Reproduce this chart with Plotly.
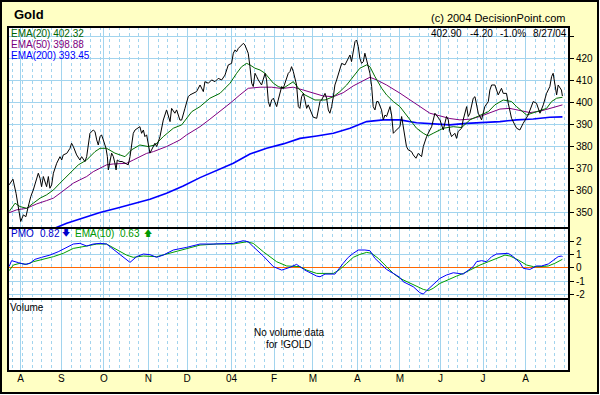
import plotly.graph_objects as go

# ---------------- data (x = trading-day index, 0 = 24 Jul 2003) ----------------
month_days = [6, 27, 49, 72, 92, 115, 137, 157, 180, 202, 223, 245, 267]
month_labels = ["A", "S", "O", "N", "D", "04", "F", "M", "A", "M", "J", "J", "A"]

price_day = [0, 2, 3.6, 4.8, 6, 7.4, 8.7, 9.9, 11.2, 12.5, 14.3, 15.1, 16, 16.8, 17.7, 19.4,
             20.3, 21.1, 22, 22.9, 24.6, 26.3, 27.2, 28, 29.8, 31.5, 32.3, 33.2, 34.9, 36.6,
             37.5, 39.2, 40.1, 40.9, 41.8, 43.5, 44.4, 45.3, 46.1, 47, 47.8, 48.7, 50.1, 50.8,
             51.3, 53, 53.9, 54.7, 55.3, 55.9, 57, 58.4, 60.4, 61.6, 62.5, 63.3, 64.2, 65.1,
             66.8, 67.6, 68.5, 69.4, 70.2, 71.1, 72.8, 74.6, 75.4, 76.3, 78, 79.7, 80.6, 81.4,
             83.2, 84, 85.7, 86.6, 88.3, 89.2, 90.9, 92.6, 93.5, 95.2, 96.9, 98.7,
             100.4, 101.2, 103, 104.7, 106.4, 108.1, 109.9, 111.6, 113.3, 115, 115.9, 116.8,
             117.6, 118.5, 120.2, 121.1, 121.9, 122.8, 123.6, 124.5, 125.4, 126.2, 127.1, 128,
             128.8, 130.5, 131.4, 132.3, 133.1, 134, 134.8, 135.7, 136.6, 137.4, 138.3, 139.1,
             140.9, 141.7, 142.6, 143.5, 144.3, 145.2, 146, 146.9, 147.8, 148.6, 149.5, 150.3,
             151.2, 152.1, 152.9, 153.8, 154.6, 155.5, 157.2, 159, 159.8, 160.7, 161.5, 163.3,
             164.1, 165, 165.8, 166.7, 167.6, 168.4, 169.3, 171, 171.9, 173.6, 174.5, 175.3,
             176.2, 177, 177.9, 178.8, 179.6, 180.5, 181.3, 182.2, 183.1, 183.9, 184.8, 185.7,
             186.5, 187.4, 188.2, 189.1, 190, 190.8, 192.5, 193.4, 194.3, 195.1, 196, 196.9,
             197.7, 198.6, 199.4, 200.3, 202,
             202.9, 203.7, 205.4, 206.3, 208, 208.9, 210.3, 211.5, 213.2, 214.1, 215.8, 217.5,
             218.4, 220.1, 220.9, 222.7, 224.4, 225.3, 226.1, 227, 227.8, 228.7, 230.4, 231.3,
             232.1, 233.9, 234.7, 236.5, 237.3, 238.2, 239.9, 240.8, 242.5, 244.2, 245.9, 247.7,
             248.5, 249.4, 251.1, 252.8, 254.5, 255.4, 257.1, 258, 259.7, 261.4, 262.3, 264,
             265.7, 268.3, 270, 270.9, 272.6, 274.4, 276.1, 277.8, 279.5, 280.4, 281.2, 283,
             283.8, 285.5, 286]
price_val = [362.6, 365.2, 358.8, 352.8, 346.0, 349.0, 348.2, 352.8, 357.3, 360.3, 364.9, 367.9,
             365.6, 361.8, 366.4, 361.8, 366.4, 361.1, 362.6, 367.9, 372.4, 375.4, 373.9, 376.2,
             376.9, 379.2, 381.5, 380.0, 376.2, 373.9, 375.4, 373.2, 375.4, 380.7, 386.0, 387.5,
             386.8, 383.0, 380.7, 384.5, 385.3, 383.0, 379.2, 375.4, 369.4, 377.0, 375.4, 372.4,
             369.4, 373.9, 373.2, 373.2, 372.4, 371.7, 375.4, 380.7, 386.0, 387.5, 388.3, 389.0,
             386.0, 387.5, 384.5, 385.3, 377.0, 380.7, 381.5, 380.0, 384.5, 392.0, 395.1, 396.6,
             391.3, 397.3, 395.1, 396.6, 392.0, 392.0, 397.3, 402.6, 403.4, 404.1, 404.9, 407.9,
             404.9, 409.4, 408.7, 410.2, 409.4, 410.9, 410.2, 412.4, 417.0, 417.7, 422.3, 423.8,
             423.0, 424.5, 426.0, 426.8, 426.0, 423.8, 422.3, 416.2, 408.7, 407.2, 413.2, 411.7,
             410.2, 407.9, 410.9, 413.2, 410.2, 400.4, 398.1, 401.1, 401.9, 400.4, 398.1, 401.1,
             407.2, 406.4, 408.7, 410.9, 413.2, 414.0, 416.2, 414.0, 410.2, 407.9, 398.1, 397.3,
             402.6, 404.1, 401.1, 397.3, 398.9, 396.6, 393.3, 392.8, 396.6, 400.4, 401.1, 404.1,
             401.9, 396.6, 395.1, 398.1, 402.6, 407.9, 410.2, 414.7, 417.7, 417.0, 418.5, 420.0,
             421.5, 418.5, 422.3, 427.6, 428.3, 425.3, 420.0, 417.7, 418.5, 422.3, 419.2, 416.2,
             413.2, 407.2, 398.1, 396.6, 400.4, 400.4, 396.6, 392.1, 394.3, 393.6, 395.8, 398.1,
             394.3, 386.0, 386.8, 387.5, 389.0,
             393.6, 389.0, 380.0, 378.5, 377.7, 376.2, 374.7, 376.9, 375.4, 380.0, 384.5, 387.5,
             389.0, 395.1, 394.3, 392.1, 387.5, 390.5, 393.6, 392.1, 386.8, 384.5, 386.0, 383.7,
             386.8, 388.3, 392.1, 398.1, 393.6, 395.1, 401.9, 402.6, 395.1, 392.1, 398.1, 400.4,
             405.6, 407.9, 407.9, 403.4, 406.4, 404.1, 404.1, 399.6, 392.8, 389.8, 388.3, 387.5,
             390.5, 394.3, 398.9, 400.4, 399.6, 395.1, 398.9, 404.1, 407.2, 411.7, 413.2, 403.4,
             407.9, 405.6, 402.9]

ema20_day = [0, 3.1, 5.6, 9.1, 12.5, 16, 19.4, 22.9, 26.3, 29.8, 33.2, 35.8, 40.1, 44.4, 47,
             50.4, 54.7, 59.9, 63.3, 67.6, 71.9, 75.4, 79.7, 84.9, 89.2, 94.4, 98.7, 103.8, 109,
             114.2, 117.6, 120.2, 122.8, 124.5, 127.1, 129.7, 132.3, 136.6, 139.1, 141.7, 144.3,
             146.9, 150.3, 152.9, 158.1, 163.3, 167.6, 171, 174.5, 177.9, 181.3, 184.8, 186.5,
             189.1, 192.6, 195.1, 198.6, 202, 207.2, 210.6, 214.1, 216.6, 219.2, 224.4, 229.6,
             233.9, 238.2, 243.3, 247.7, 251.1, 255.4, 259.7, 262.3, 267.5, 272.6, 277.8, 280.4,
             283, 286]
ema20_val = [350.5, 354.3, 352.8, 352.0, 354.3, 356.6, 358.1, 360.3, 363.4, 366.4, 369.4, 371.7,
             373.9, 377.7, 379.2, 379.2, 377.0, 375.4, 378.5, 380.7, 380.0, 380.7, 384.5, 388.3,
             389.8, 395.8, 398.1, 401.9, 404.1, 408.7, 413.2, 416.2, 417.7, 417.0, 415.5, 414.7,
             413.2, 408.7, 407.2, 406.4, 407.9, 409.4, 405.6, 403.4, 401.1, 401.1, 402.6, 404.9,
             407.9, 411.7, 415.5, 417.0, 416.2, 411.7, 406.4, 403.4, 400.4, 398.1, 392.1, 388.3,
             386.0, 384.8, 386.0, 388.3, 389.0, 388.6, 392.1, 393.9, 395.8, 398.9, 401.1, 400.4,
             398.1, 394.3, 395.8, 397.3, 400.4, 401.9, 402.32]

ema50_day = [0, 3.9, 9.1, 14.3, 19.4, 22.9, 26.3, 29.8, 33.2, 36.6, 40.1, 43.5, 47, 50.4, 53.9,
             57.3, 60.7, 64.2, 67.6, 71.1, 74.6, 78, 81.4, 84.9, 88.3, 91.8, 95.2, 98.7, 103.8,
             109, 114.2, 119.3, 123.6, 129.7, 135.7, 140.9, 146.9, 152.1, 157.2, 162.4, 167.6,
             172.7, 177.9, 183.1, 186.5, 190, 195.1, 202, 207.2, 212.3, 217.5, 222.7, 227.8,
             233, 238.2, 243.3, 248.5, 253.7, 258.8, 264, 269.2, 274.4, 279.5, 286]
ema50_val = [350.0, 351.3, 352.0, 354.0, 355.5, 356.6, 358.8, 361.1, 363.4, 364.9, 366.4, 368.6,
             370.2, 371.7, 372.1, 372.4, 372.4, 373.9, 375.4, 376.9, 377.7, 378.8, 380.0, 381.5,
             383.0, 385.3, 387.2, 389.0, 392.4, 395.8, 399.6, 403.4, 406.4, 406.9, 406.9, 406.3,
             406.9, 405.6, 404.1, 402.9, 402.6, 404.4, 407.5, 409.9, 411.4, 410.2, 407.9, 404.2,
             401.1, 397.8, 395.1, 393.9, 392.7, 392.1, 392.4, 393.6, 395.4, 397.0, 397.3, 396.3,
             395.4, 396.0, 397.3, 398.88]

ema200_day = [0, 19.4, 29.8, 38.4, 47, 55.6, 64.2, 72.8, 81.4, 90, 98.7, 107.3, 115.9, 124.5,
              133.1, 141.7, 150.3, 159, 167.6, 176.2, 184.8, 193.4, 202, 210.6, 219.2, 227.8,
              236.5, 245.1, 253.7, 262.3, 270.9, 279.5, 286]
ema200_val = [337.0, 341.5, 345.2, 347.5, 350.1, 352.0, 354.0, 356.1, 358.8, 362.1, 365.9, 369.1,
              372.4, 376.6, 379.2, 381.2, 383.7, 384.8, 386.0, 388.3, 391.3, 392.1, 392.1, 390.8,
              390.2, 389.8, 390.5, 390.8, 391.3, 392.1, 392.5, 393.3, 393.45]

pmo_day = [0, 1.3, 4.8, 8.2, 10.8, 13.4, 16.8, 21.1, 25.4, 29.8, 33.2, 36.6, 40.1, 43.5, 47,
           50.4, 52.1, 57.3, 62.5, 65.9, 69.4, 72.8, 76.3, 79.7, 84.9, 91.8, 98.7, 105.5, 112.4,
           115.9, 121, 123.6, 126.2, 131.4, 136.6, 140.9, 145.2, 148.6, 150.3, 152.9, 159, 160.7,
           163.3, 168.4, 172.7, 175.3, 177.9, 180.5, 183.9, 186.5, 189.1, 195.1, 198.6, 202,
           203.7, 208.9, 212.3, 214.1, 215.8, 219.2, 222.7, 226.1, 229.6, 234.7, 237.3, 239.9,
           241.6, 244.2, 246.8, 249.4, 252, 258, 260.6, 264, 265.8, 269.2, 272.6, 275.2, 278.7,
           281.3, 283.8, 285.6, 286]
pmo_val = [0.08, 0.53, 0.38, 0.25, 0.33, 0.63, 0.78, 0.95, 1.2, 1.53, 1.78, 1.83, 1.63, 1.78,
           1.83, 1.78, 1.58, 0.95, 0.4, 0.83, 1.03, 0.98, 0.78, 0.95, 1.33, 1.53, 1.78, 1.78,
           1.78, 1.83, 2.03, 1.95, 1.58, 0.88, 0.08, -0.18, 0.03, 0.25, 0.08, -0.18, -0.63,
           -0.68, -0.48, -0.48, 0.33, 0.78, 1.08, 1.33, 1.33, 1.28, 0.7, -0.13, -0.43, -0.73,
           -1.05, -1.43, -1.88, -1.98, -1.73, -1.3, -0.8, -0.55, -0.38, -0.48, -0.18, 0.08,
           0.45, 0.53, 0.45, 0.83, 1.03, 1.08, 0.83, 0.38, -0.05, -0.13, 0.13, 0.13, 0.28,
           0.53, 0.83, 0.88, 0.82]

pmo_ema_day = [0, 2.2, 5.6, 9.1, 12.5, 17.7, 22.9, 28, 33.2, 40.1, 45.3, 50.4, 55.6, 60.7, 64.2,
               69.4, 76.3, 81.4, 86.6, 91.8, 98.7, 107.3, 115.9, 122.8, 126.2, 131.4, 138.3,
               143.5, 150.3, 153.8, 159, 167.6, 171, 174.5, 177.9, 181.3, 184.8, 187.4, 190.8,
               195.1, 198.6, 202, 205.5, 209.8, 214.1, 216.7, 219.2, 222.7, 227, 231.3, 234.8,
               238.2, 243.4, 247.7, 252, 256.3, 258.9, 263.2, 267.5, 271, 274.4, 278.7, 282.1, 286]
pmo_ema_val = [-0.23, 0.2, 0.33, 0.25, 0.45, 0.63, 0.83, 1.08, 1.45, 1.63, 1.78, 1.78, 1.33,
               0.95, 0.78, 0.88, 0.83, 1.03, 1.2, 1.45, 1.7, 1.78, 1.78, 1.95, 1.83, 1.2, 0.45,
               0.13, 0.08, -0.18, -0.43, -0.43, -0.13, 0.33, 0.78, 1.0, 1.15, 1.08, 0.7, 0.08,
               -0.43, -0.8, -1.05, -1.3, -1.63, -1.73, -1.55, -1.18, -0.88, -0.63, -0.43, -0.18,
               0.2, 0.45, 0.7, 0.95, 0.88, 0.58, 0.2, 0.08, 0.08, 0.13, 0.33, 0.63]

price_ticks = [350, 360, 370, 380, 390, 400, 410, 420, 430]
price_ticktext = ["350", "360", "370", "380", "390", "400", "410", "420", ""]
pmo_ticks = [-2, -1, 0, 1, 2]
pmo_ticktext = ["-2", "-1", "0", "1", "2"]

# ---------------- layout helpers ----------------
W, H = 600, 395
def fx(p):
    return p / W
def fy(p):
    return 1 - p / H

X0, X1 = 8, 569
P_TOP, P_BOT, M_BOT, V_BOT = 27, 228, 299, 371
XR = [-0.56, 289.4]
GRID = "#A2D4EE"
FONT = "Liberation Sans, Arial, sans-serif"
YELLOW = "#FFFFC4"

fig = go.Figure()
fig.add_trace(go.Scatter(x=ema200_day, y=ema200_val, mode="lines",
                         line=dict(color="#0000FF", width=1.6), xaxis="x", yaxis="y", hoverinfo="skip"))
fig.add_trace(go.Scatter(x=ema50_day, y=ema50_val, mode="lines",
                         line=dict(color="#800080", width=1), xaxis="x", yaxis="y", hoverinfo="skip"))
fig.add_trace(go.Scatter(x=ema20_day, y=ema20_val, mode="lines",
                         line=dict(color="#007000", width=1), xaxis="x", yaxis="y", hoverinfo="skip"))
fig.add_trace(go.Scatter(x=price_day, y=price_val, mode="lines",
                         line=dict(color="#000000", width=1), xaxis="x", yaxis="y", hoverinfo="skip"))
fig.add_trace(go.Scatter(x=pmo_ema_day, y=pmo_ema_val, mode="lines",
                         line=dict(color="#00A000", width=1), xaxis="x2", yaxis="y2", hoverinfo="skip"))
fig.add_trace(go.Scatter(x=pmo_day, y=pmo_val, mode="lines",
                         line=dict(color="#0000FF", width=1), xaxis="x2", yaxis="y2", hoverinfo="skip"))
fig.add_trace(go.Scatter(x=[], y=[], mode="lines", xaxis="x3", yaxis="y3", hoverinfo="skip"))

def xax(anchor, labels):
    d = dict(domain=[fx(X0), fx(X1)], range=XR, anchor=anchor, tickmode="array",
             tickvals=month_days, ticktext=month_labels, showticklabels=labels, ticks="",
             showgrid=True, gridcolor=GRID, gridwidth=1, zeroline=False, showline=False,
             tickfont=dict(family=FONT, size=10, color="black"),
             minor=dict(tickmode="linear", tick0=2, dtick=5, showgrid=True, gridcolor=GRID,
                        griddash="dot", gridwidth=1, ticks=""))
    if anchor != "y":
        d["matches"] = "x"
    return d

fig.update_layout(
    width=W, height=H, autosize=False,
    margin=dict(l=0, r=0, t=0, b=0, pad=0),
    paper_bgcolor="white", plot_bgcolor="rgba(0,0,0,0)",
    showlegend=False, hovermode=False,
    font=dict(family=FONT, size=10, color="black"),
    xaxis=xax("y", False),
    xaxis2=xax("y2", False),
    xaxis3=xax("y3", True),
    yaxis=dict(domain=[fy(P_BOT), fy(P_TOP)], range=[343.07, 434.19], anchor="x", side="right",
               tickmode="array", tickvals=price_ticks, ticktext=price_ticktext,
               ticks="outside", ticklen=4, tickcolor="black", showgrid=True, gridcolor=GRID,
               zeroline=False, showline=False, tickfont=dict(family=FONT, size=10, color="black")),
    yaxis2=dict(domain=[fy(M_BOT), fy(P_BOT)], range=[-2.353, 2.985], anchor="x2", side="right",
                tickmode="array", tickvals=pmo_ticks, ticktext=pmo_ticktext,
                ticks="outside", ticklen=4, tickcolor="black", showgrid=True, gridcolor=GRID,
                zeroline=True, zerolinecolor="#FF6600", zerolinewidth=1, showline=False,
                tickfont=dict(family=FONT, size=10, color="black")),
    yaxis3=dict(domain=[fy(V_BOT), fy(M_BOT)], range=[0, 1], anchor="x3", side="right",
                showticklabels=False, ticks="", showgrid=False, zeroline=False, showline=False),
)

shapes = [
    dict(type="rect", xref="paper", yref="paper", x0=fx(1), x1=fx(598), y0=fy(393), y1=fy(1),
         fillcolor=YELLOW, line=dict(color="black", width=2), layer="below"),
    dict(type="rect", xref="paper", yref="paper", x0=fx(X0), x1=fx(X1), y0=fy(V_BOT), y1=fy(P_TOP),
         fillcolor="white", line=dict(width=0), layer="below"),
]
for top, bot in [(P_TOP, P_BOT), (P_BOT, M_BOT), (M_BOT, V_BOT)]:
    shapes.append(dict(type="rect", xref="paper", yref="paper", x0=fx(X0), x1=fx(X1),
                       y0=fy(bot), y1=fy(top), line=dict(color="black", width=2), layer="above"))
fig.update_layout(shapes=shapes)

def note(text, x, y, color="black", size=10, xanchor="left", bold=False):
    if bold:
        text = "<b>" + text + "</b>"
    fig.add_annotation(text=text, x=fx(x), y=fy(y), xref="paper", yref="paper",
                       xanchor=xanchor, yanchor="middle", showarrow=False,
                       font=dict(family=FONT, size=size, color=color))

note("Gold", 12, 14.5, size=13, bold=True)
note("(c) 2004 DecisionPoint.com", 568, 17.5, size=11, xanchor="right")
note("EMA(20) 402.32", 9, 33.5, color="#006400")
note("EMA(50) 398.88", 9, 44.5, color="#800080")
note("EMA(200) 393.45", 9, 55.5, color="#0000FF")
note("402.90", 429, 33.5)
note("-4.20", 468, 33.5)
note("-1.0%", 498, 33.5)
note("8/27/04", 531, 33.5)
note("PMO", 9, 233.5, color="#0000CC")
note("0.82", 38, 233.5, color="#0000CC")
note("🡇", 66, 233.5, color="#0000CC", size=8, xanchor="center")
note("EMA(10)", 73, 233.5, color="#009900")
note("0.63", 118, 233.5, color="#009900")
note("🡅", 148, 233.5, color="#009900", size=8, xanchor="center")
note("Volume", 8, 307.5)
note("No volume data", 289, 332.5, xanchor="center")
note("for !GOLD", 289, 344.5, xanchor="center")

fig.write_html("out.html", config={"displayModeBar": False, "staticPlot": True},
               post_script="document.body.style.margin='0px';document.body.style.overflow='hidden';")
